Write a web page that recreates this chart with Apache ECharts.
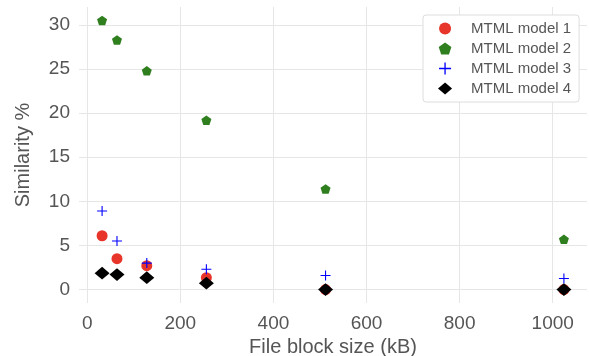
<!DOCTYPE html>
<html><head><meta charset="utf-8">
<script src="https://cdn.jsdelivr.net/npm/echarts@6/dist/echarts.min.js"></script>
<style>html,body{margin:0;padding:0;background:#fff}#c{width:589px;height:356px}</style>
</head><body><div id="c"></div>
<script>
const blockSizes = [32, 64, 128, 256, 512, 1024];
const model1 = [6.1, 3.5, 2.7, 1.35, 0.0, 0.0];
const model2 = [30.5, 28.3, 24.8, 19.2, 11.4, 5.7];
const model3 = [8.9, 5.5, 3.0, 2.3, 1.6, 1.25];
const model4 = [1.85, 1.7, 1.35, 0.72, 0.0, 0.0];
const xTicks = [0, 200, 400, 600, 800, 1000];
const yTicks = [0, 5, 10, 15, 20, 25, 30];
const seriesNames = ['MTML model 1', 'MTML model 2', 'MTML model 3', 'MTML model 4'];

const FONT = 'Liberation Sans';
const TXT = '#555555';
const pent = 'path://M0,-1 L0.951,-0.309 L0.588,0.809 L-0.588,0.809 L-0.951,-0.309 Z';
const plus = 'path://M-1,-0.11 L-0.11,-0.11 L-0.11,-1 L0.11,-1 L0.11,-0.11 L1,-0.11 L1,0.11 L0.11,0.11 L0.11,1 L-0.11,1 L-0.11,0.11 L-1,0.11 Z';
const diam = 'path://M0,-0.85 L1,0 L0,0.85 L-1,0 Z';
const pair = arr => blockSizes.map((x, i) => [x, arr[i]]);

const common = {type: 'scatter', symbolKeepAspect: true, silent: true, emphasis: {disabled: true}};
const chart = echarts.init(document.getElementById('c'), null, {renderer: 'canvas'});
chart.setOption({
  animation: false,
  backgroundColor: '#ffffff',
  grid: {left: 79, right: 2, top: 7, bottom: 53, containLabel: false, outerBoundsMode: 'none'},
  xAxis: {
    type: 'value', min: -17.6, max: 1073.6,
    name: 'File block size (kB)', nameLocation: 'middle', nameGap: 31,
    nameTextStyle: {fontFamily: FONT, fontSize: 20, color: TXT},
    axisLine: {show: false}, axisTick: {show: false, customValues: xTicks},
    axisLabel: {customValues: xTicks, formatter: v => String(v), fontFamily: FONT, fontSize: 19, color: TXT, margin: 11},
    splitLine: {show: true, lineStyle: {color: '#e6e6e6', width: 1}}
  },
  yAxis: {
    type: 'value', min: -1.525, max: 32.03,
    name: 'Similarity %', nameLocation: 'middle', nameGap: 46,
    nameTextStyle: {fontFamily: FONT, fontSize: 20, color: TXT},
    axisLine: {show: false}, axisTick: {show: false, customValues: yTicks},
    axisLabel: {customValues: yTicks, formatter: v => String(v), fontFamily: FONT, fontSize: 19, color: TXT, margin: 9},
    splitLine: {show: true, lineStyle: {color: '#e6e6e6', width: 1}}
  },
  legend: {
    orient: 'vertical', left: 423, top: 15,
    padding: [6, 8, 6, 15], itemGap: 5, itemWidth: 42, itemHeight: 12,
    backgroundColor: '#ffffff', borderColor: '#dddddd', borderWidth: 1, borderRadius: 3,
    textStyle: {fontFamily: FONT, fontSize: 15, color: TXT},
    data: seriesNames
  },
  series: [
    Object.assign({name: seriesNames[0], data: pair(model1), symbol: 'circle', symbolSize: 11,
     itemStyle: {color: '#e8352a', opacity: 1}, z: 2}, common),
    Object.assign({name: seriesNames[1], data: pair(model2), symbol: pent, symbolSize: 10,
     itemStyle: {color: '#2f7f1f', opacity: 1}, z: 3}, common),
    Object.assign({name: seriesNames[2], data: pair(model3), symbol: plus, symbolSize: 10,
     itemStyle: {color: '#0000ff', opacity: 1}, z: 4}, common),
    Object.assign({name: seriesNames[3], data: pair(model4), symbol: diam, symbolSize: 15,
     itemStyle: {color: '#000000', opacity: 1}, z: 5}, common)
  ]
});
</script></body></html>
